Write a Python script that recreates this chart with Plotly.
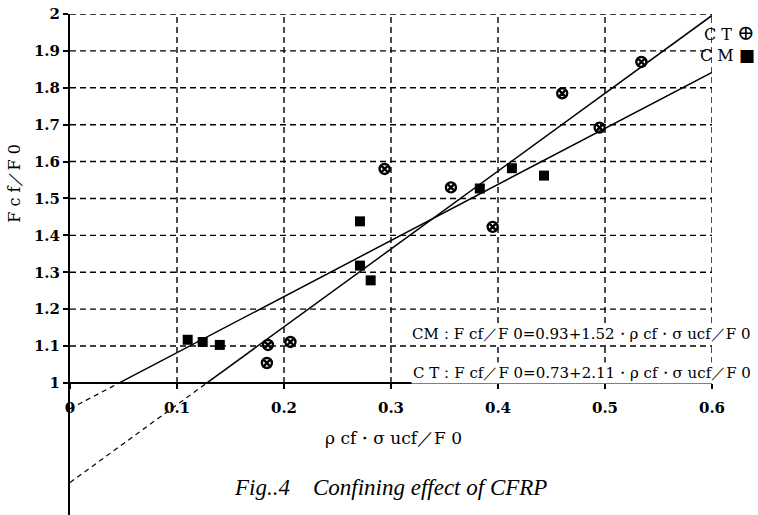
import plotly.graph_objects as go

# ---- data ----
cm_x = [0.110, 0.124, 0.140, 0.271, 0.271, 0.281, 0.383, 0.413, 0.443]
cm_y = [1.117, 1.111, 1.103, 1.438, 1.318, 1.278, 1.527, 1.582, 1.562]
ct_x = [0.184, 0.185, 0.206, 0.294, 0.356, 0.395, 0.460, 0.495, 0.534]
ct_y = [1.054, 1.103, 1.111, 1.580, 1.530, 1.423, 1.785, 1.692, 1.870]

cm_a, cm_b = 0.93, 1.52   # CM fit: F/F0 = a + b*x
ct_a, ct_b = 0.73, 2.11   # CT fit

x_ticks = [0, 0.1, 0.2, 0.3, 0.4, 0.5, 0.6]
x_ticktext = ["0", "0.1", "0.2", "0.3", "0.4", "0.5", "0.6"]
y_ticks = [1, 1.1, 1.2, 1.3, 1.4, 1.5, 1.6, 1.7, 1.8, 1.9, 2]
y_ticktext = ["1", "1.1", "1.2", "1.3", "1.4", "1.5", "1.6", "1.7", "1.8", "1.9", "2"]

eq_cm = "CM：F cf／F 0=0.93+1.52・ρ cf・σ ucf／F 0"
eq_ct = "C T：F cf／F 0=0.73+2.11・ρ cf・σ ucf／F 0"
x_title = "ρ cf・σ ucf／F 0"
y_title = "F c f／F 0"
caption = "Fig..4    Confining effect of CFRP"
legend_ct = "C T <span style='font-size:21px'>⊕</span>"
legend_cm = "C M <span style='font-size:17px'>■</span>"

X_MAX = 0.6
Y_MIN, Y_MAX = 0.642, 2.0
FONT = "DejaVu Serif"
L, R, T, B, W, H = 70, 46, 14, 0, 758, 515


def px(xpix):
    return (xpix - L) / (W - L - R)


fig = go.Figure()

# grid (dashed, restricted to the 0..0.6 x 1..2 box)
grid = dict(color="black", width=1.4, dash="6px,4px")
for yv in y_ticks[1:]:
    fig.add_shape(type="line", xref="x", yref="y", x0=0, x1=X_MAX, y0=yv, y1=yv,
                  line=grid, layer="below")
for xv in x_ticks[1:]:
    fig.add_shape(type="line", xref="x", yref="y", x0=xv, x1=xv, y0=1, y1=Y_MAX,
                  line=grid, layer="below")

# fit lines: solid above y=1, dashed extension down to x=0
for a, b in [(cm_a, cm_b), (ct_a, ct_b)]:
    xc = (1 - a) / b
    fig.add_trace(go.Scatter(x=[xc, X_MAX], y=[1, a + b * X_MAX], mode="lines",
                             line=dict(color="black", width=1.5), showlegend=False,
                             hoverinfo="skip"))
    fig.add_trace(go.Scatter(x=[0, xc], y=[a, 1], mode="lines",
                             line=dict(color="black", width=1.2, dash="5px,4px"),
                             showlegend=False, hoverinfo="skip"))

fig.add_trace(go.Scatter(x=cm_x, y=cm_y, mode="markers", name="CM",
                         marker=dict(symbol="square", size=10, color="black"),
                         showlegend=False))
fig.add_trace(go.Scatter(x=ct_x, y=ct_y, mode="markers", name="CT",
                         marker=dict(symbol="circle-x-open", size=10, color="black",
                                     line=dict(width=2.4, color="black")),
                         showlegend=False))

ann = []
ann.append(dict(x=px(753), y=1.132, xref="paper", yref="y", text=eq_cm, showarrow=False,
                xanchor="right", yanchor="middle",
                font=dict(family=FONT, size=15, color="black"), bgcolor="white"))
ann.append(dict(x=px(753), y=1.027, xref="paper", yref="y", text=eq_ct, showarrow=False,
                xanchor="right", yanchor="middle",
                font=dict(family=FONT, size=15, color="black"), bgcolor="white"))
# legend labels
ann.append(dict(x=px(757), y=1.949, xref="paper", yref="y", text=legend_ct, showarrow=False,
                xanchor="right", yanchor="middle",
                font=dict(family=FONT, size=16, color="black")))
ann.append(dict(x=px(757), y=1.889, xref="paper", yref="y", text=legend_cm, showarrow=False,
                xanchor="right", yanchor="middle",
                font=dict(family=FONT, size=16, color="black")))
# axis titles
ann.append(dict(x=0.302, y=0.851, xref="x", yref="y", text=x_title, showarrow=False,
                xanchor="center", yanchor="middle",
                font=dict(family=FONT, size=17, color="black")))
ann.append(dict(x=px(15), y=1.54, xref="paper", yref="y", text=y_title, showarrow=False,
                textangle=-90, xanchor="center", yanchor="middle",
                font=dict(family=FONT, size=16, color="black")))
# caption
ann.append(dict(x=px(390), y=0.717, xref="paper", yref="y", text=caption, showarrow=False,
                xanchor="center", yanchor="middle",
                font=dict(family="Liberation Serif", size=23, color="black", style="italic")))

tickfont = dict(family=FONT, size=15, color="black", weight="bold")

fig.update_layout(
    width=W, height=H,
    margin=dict(l=L, r=R, t=T, b=B),
    paper_bgcolor="white", plot_bgcolor="white",
    annotations=ann,
    showlegend=False,
    xaxis=dict(range=[0, X_MAX], anchor="free",
               position=(1 - Y_MIN) / (Y_MAX - Y_MIN),
               showgrid=False, zeroline=False, showline=True, linecolor="black",
               linewidth=2, ticks="outside", ticklen=5, tickwidth=2, tickcolor="black",
               tickvals=x_ticks, ticktext=x_ticktext, ticklabelstandoff=6,
               tickfont=tickfont),
    yaxis=dict(range=[Y_MIN, Y_MAX], showgrid=False, zeroline=False, showline=True,
               linecolor="black", linewidth=2, ticks="outside", ticklen=5, tickwidth=2,
               tickcolor="black", tickvals=y_ticks, ticktext=y_ticktext,
               ticklabelstandoff=0,
               tickfont=tickfont),
)

fig.write_html("out.html")
